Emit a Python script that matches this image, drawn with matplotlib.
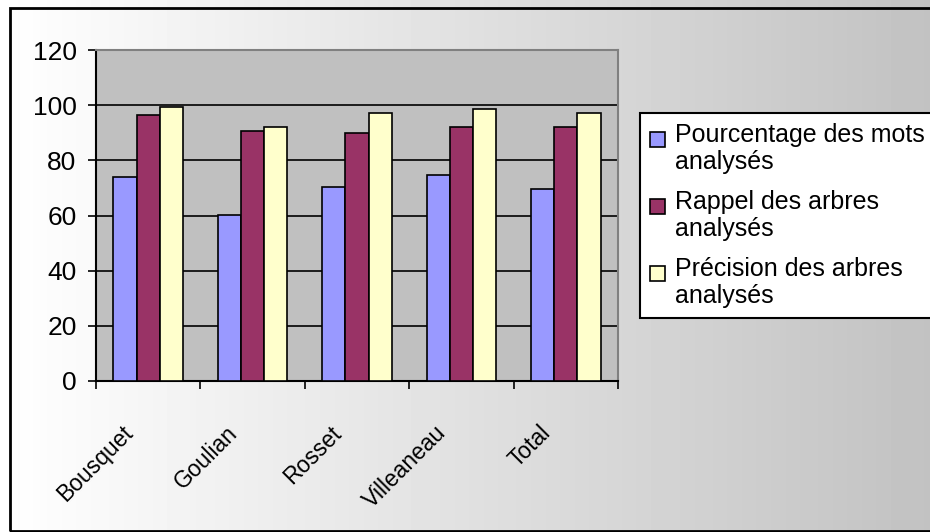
import numpy as np
import matplotlib
matplotlib.use('Agg')
import matplotlib.pyplot as plt
import matplotlib.transforms as mtransforms
from matplotlib.patches import Rectangle
from matplotlib.container import BarContainer
from matplotlib.legend_handler import HandlerPatch, update_from_first_child

plt.rcParams['font.family'] = ['Liberation Sans', 'DejaVu Sans']

# données
categories = ['Bousquet', 'Goulian', 'Rosset', 'Villeaneau', 'Total']
pourcentage_mots = [74.1, 60.3, 70.5, 74.8, 69.7]
rappel_arbres = [96.6, 90.8, 90.0, 92.2, 92.2]
precision_arbres = [99.5, 92.2, 97.3, 98.7, 97.3]
series_labels = ['Pourcentage des mots\nanalysés',
                 'Rappel des arbres\nanalysés',
                 'Précision des arbres\nanalysés']
series_colors = ['#9999ff', '#993366', '#ffffcc']
yticks = [0, 20, 40, 60, 80, 100, 120]

W, H = 930, 532
fig = plt.figure(figsize=(W / 100, H / 100), dpi=100)

# fond dégradé
bg = fig.add_axes([0, 0, 1, 1], zorder=-10)
grad = np.linspace(1.0, 0.76, 256).reshape(1, -1)
bg.imshow(grad, cmap='gray', vmin=0, vmax=1, aspect='auto', extent=[0, 1, 0, 1])
bg.set_xlim(0, 1)
bg.set_ylim(0, 1)
bg.axis('off')

# cadre noir
fig.patches.append(Rectangle((10 / W, 1 / H), 1.2, (H - 9) / H,
                             transform=fig.transFigure, fill=False,
                             edgecolor='black', linewidth=2, clip_on=False))

ax = fig.add_axes([96 / W, 1 - 381 / H, 522 / W, 331 / H])
ax.set_facecolor('#c0c0c0')

x = np.arange(len(categories))
bw = 0.222
for i, (vals, lab, col) in enumerate(zip([pourcentage_mots, rappel_arbres, precision_arbres],
                                         series_labels, series_colors)):
    ax.bar(x + (i - 1) * bw, vals, width=bw, color=col, edgecolor='black',
           linewidth=1.2, label=lab, zorder=3)

ax.set_xlim(-0.5, len(categories) - 0.5)
ax.set_ylim(0, 120)
ax.set_yticks(yticks)
ax.set_yticklabels([str(v) for v in yticks])
ax.yaxis.grid(True, color='black', linewidth=1.2, zorder=0)
ax.set_axisbelow(True)

# ticks
ax.set_xticks(x)
ax.set_xticklabels(categories, rotation=45, ha='right', va='center',
                   rotation_mode='anchor', fontsize=16.5)
ax.set_xticks(np.arange(len(categories) + 1) - 0.5, minor=True)
ax.tick_params(axis='x', which='major', length=0, pad=35)
ax.tick_params(axis='x', which='minor', length=6, width=1.2, direction='out')
ax.tick_params(axis='y', length=6, width=1.2, direction='out', labelsize=19, pad=8)
offset = mtransforms.ScaledTranslation(-0.19, 0, fig.dpi_scale_trans)
for lbl in ax.get_xticklabels():
    lbl.set_transform(lbl.get_transform() + offset)

for side in ['top', 'right']:
    ax.spines[side].set_color('#808080')
    ax.spines[side].set_linewidth(1.5)
for side in ['left', 'bottom']:
    ax.spines[side].set_color('black')
    ax.spines[side].set_linewidth(1.5)


# carré de légende aligné sur la première ligne
def top_square(legend, orig_handle, xdescent, ydescent, width, height, fontsize):
    s = 0.6 * fontsize
    return Rectangle((-xdescent, -ydescent + height - s), s, s)


leg = fig.legend(loc='upper left', bbox_to_anchor=(640 / W, 1 - 113 / H),
                 fontsize=18, frameon=True, fancybox=False, shadow=False,
                 framealpha=1, edgecolor='black', facecolor='white',
                 borderaxespad=0, borderpad=0.4, handlelength=0.6,
                 handleheight=1.85, handletextpad=0.4, labelspacing=0.65,
                 handler_map={BarContainer: HandlerPatch(patch_func=top_square,
                                                         update_func=update_from_first_child)})
leg.get_frame().set_linewidth(1.5)
for t in leg.get_texts():
    t.set_linespacing(1.15)

fig.savefig('out.png', dpi=100)
